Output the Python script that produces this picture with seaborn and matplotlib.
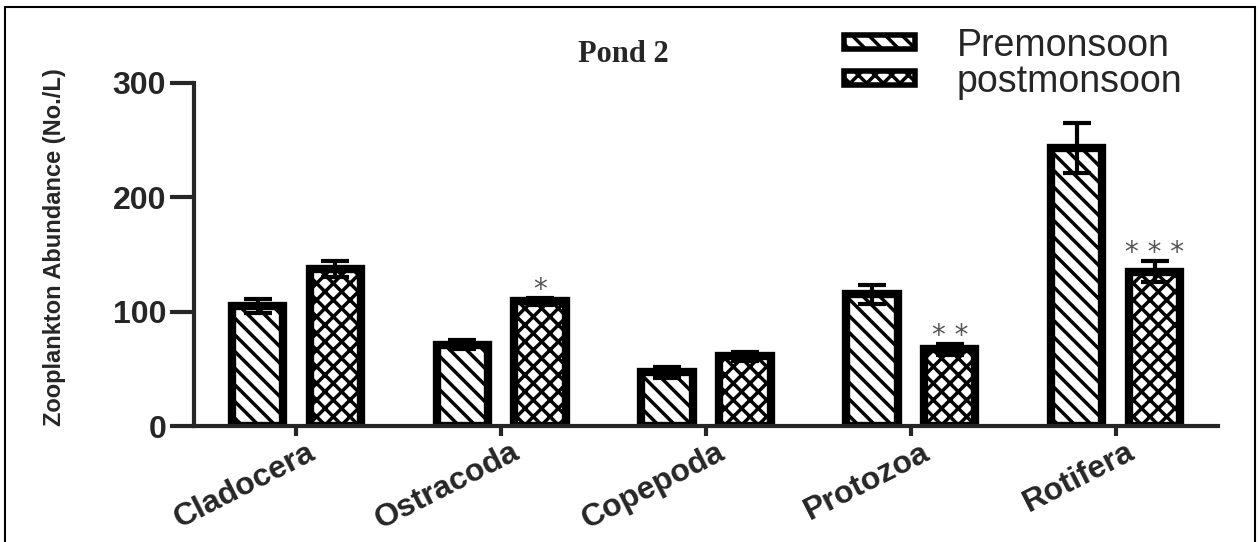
import pandas as pd
import seaborn as sns
import matplotlib.pyplot as plt
from matplotlib.patches import Patch, Rectangle
from matplotlib.transforms import ScaledTranslation

# values
categories = ["Cladocera", "Ostracoda", "Copepoda", "Protozoa", "Rotifera"]
seasons = ["Premonsoon", "postmonsoon"]
pre_mean = [105, 71, 47, 115, 243]
pre_err = [6, 4, 5, 8, 22]
post_mean = [137, 109, 61, 67, 135]
post_err = [7, 3, 4, 5, 9]
post_sig = ["", "*", "", "* *", "* * *"]
hatches = ["\\\\", "xx"]


def build_frame():
    rows = []
    for i, cat in enumerate(categories):
        rows.append({"Group": cat, "Season": seasons[0], "Abundance": pre_mean[i]})
        rows.append({"Group": cat, "Season": seasons[1], "Abundance": post_mean[i]})
    return pd.DataFrame(rows)


sns.set_style("ticks")
plt.rcParams['font.family'] = ['Liberation Sans', 'DejaVu Sans']
plt.rcParams['hatch.linewidth'] = 2.5

df = build_frame()

fig = plt.figure(figsize=(12.6, 5.42), dpi=100)
ax = fig.add_axes([0.154, 0.214, 0.8127, 0.633])

sns.barplot(data=df, x="Group", y="Abundance", hue="Season", order=categories,
            hue_order=seasons, palette=["white", "white"], saturation=1,
            edgecolor="black", linewidth=6, width=0.76, gap=0.34,
            errorbar=None, legend=False, ax=ax)

bar_containers = list(ax.containers)
for cont, h in zip(bar_containers, hatches):
    for p in cont.patches:
        p.set_hatch(h)

# error bars at the bar centres the barplot produced
all_means = [pre_mean, post_mean]
all_errs = [pre_err, post_err]
centres = []
for cont, m, e in zip(bar_containers, all_means, all_errs):
    xs = [p.get_x() + p.get_width() / 2 for p in cont.patches]
    centres.append(xs)
    ax.errorbar(xs, m, yerr=e, fmt='none', ecolor='black', elinewidth=3,
                capsize=10, capthick=3, zorder=5)

# significance marks above the postmonsoon bars
for x, m, e, s in zip(centres[1], post_mean, post_err, post_sig):
    if s:
        ax.text(x, m + e, s, ha='center', va='baseline', fontsize=20,
                color='#555555', family='DejaVu Sans')

ax.set_xlim(-0.5, 4.5)
ax.set_ylim(0, 300)
ax.set_yticks([0, 100, 200, 300])
sns.despine(ax=ax)
ax.spines['left'].set_linewidth(3)
ax.spines['bottom'].set_linewidth(3)
ax.tick_params(axis='y', length=17, width=3, labelsize=23, pad=3)
ax.tick_params(axis='x', length=7, width=3, labelsize=23, pad=1)
for lab in ax.get_yticklabels():
    lab.set_fontweight('bold')

ax.set_xticks(range(len(categories)))
ax.set_xticklabels(categories, rotation=27, ha='right', va='top',
                   rotation_mode='anchor', fontweight='bold')
shift = ScaledTranslation(0.1, 0, fig.dpi_scale_trans)
for lab in ax.get_xticklabels():
    lab.set_transform(lab.get_transform() + shift)

ax.set_xlabel('')
ax.set_ylabel('Zooplankton Abundance (No./L)', fontsize=17, fontweight='bold')
ax.yaxis.set_label_coords(-0.125, 0.522)

fig.text(0.495, 0.90, 'Pond 2', family='Liberation Serif', fontweight='bold',
         fontsize=22, ha='center', va='center')

handles = [Patch(facecolor='white', edgecolor='black', hatch=h, linewidth=4)
           for h in hatches]
fig.legend(handles, seasons, loc='upper left',
           bbox_to_anchor=(844 / 1260, 1 - 28 / 542), frameon=False,
           fontsize=27, handlelength=1.9, handleheight=0.2, handletextpad=1.1,
           labelspacing=0.0, borderpad=0, borderaxespad=0)

fig.add_artist(Rectangle((5 / 1260, -0.02), 1250 / 1260, 1 - 7 / 542 + 0.02,
                         transform=fig.transFigure, fill=False,
                         edgecolor='black', linewidth=1.5))

plt.savefig("out.png", dpi=100)
plt.close()
